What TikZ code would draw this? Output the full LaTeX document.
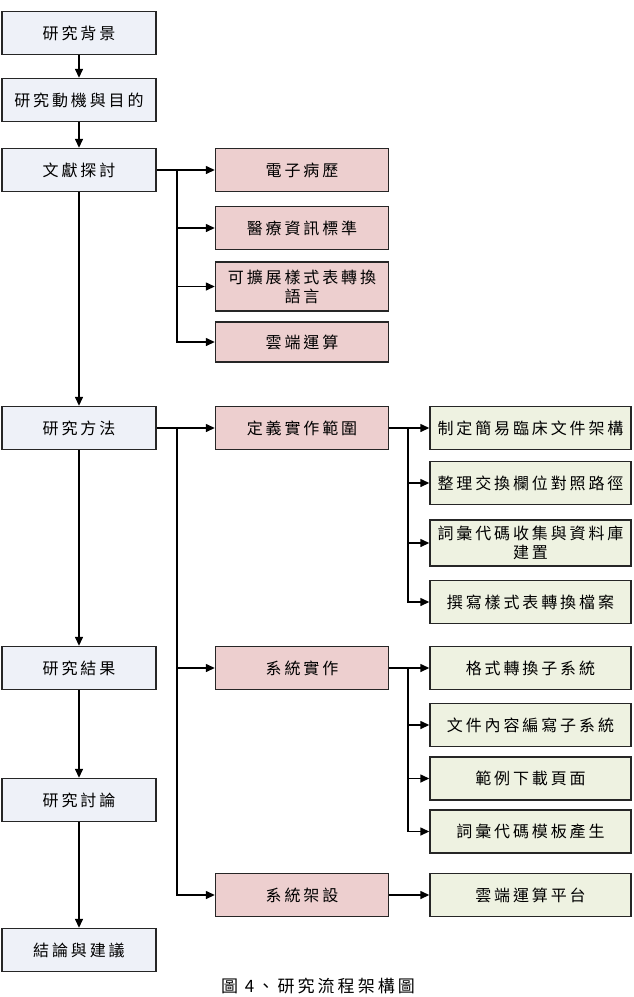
\documentclass[tikz,border=0pt]{standalone}
\usepackage{fontspec}
\setmainfont{Noto Sans CJK TC}
\newfontfamily\boxfont[LetterSpace=18]{Noto Sans CJK TC}
\usetikzlibrary{arrows.meta}
\usepackage{xcolor}

\definecolor{mainfill}{HTML}{EEF1F8}
\definecolor{topicfill}{HTML}{EDCFCF}
\definecolor{taskfill}{HTML}{EEF2E1}

\begin{document}
\begin{tikzpicture}[x=1pt,y=-1pt,
    box/.style={draw=black!85, line width=1.4pt, minimum height=43pt,
      inner sep=2pt, align=center, font=\boxfont\fontsize{16}{19}\selectfont},
    mainbox/.style={box, fill=mainfill, minimum width=154pt},
    topicbox/.style={box, fill=topicfill, minimum width=173pt},
    taskbox/.style={box, fill=taskfill, minimum width=201pt},
    arr/.style={line width=1.4pt, -{Triangle[length=9pt,width=8pt]}}]
  \useasboundingbox (0,0) rectangle (634,997);

  % 主流程
  \node[mainbox] (bg)    at (79,33)  {研究背景};
  \node[mainbox] (mot)   at (79,100) {研究動機與目的};
  \node[mainbox] (lit)   at (79,170) {文獻探討};
  \node[mainbox] (meth)  at (79,428) {研究方法};
  \node[mainbox] (res)   at (79,668) {研究結果};
  \node[mainbox] (disc)  at (79,800) {研究討論};
  \node[mainbox] (concl) at (79,950) {結論與建議};

  % 文獻探討的項目
  \node[topicbox] (emr)   at (302,170) {電子病歷};
  \node[topicbox] (std)   at (302,228) {醫療資訊標準};
  \node[topicbox, minimum height=49pt] (xslt) at (302,286.5) {可擴展樣式表轉換\\語言};
  \node[topicbox, minimum height=40pt] (cloud) at (302,342) {雲端運算};

  % 研究方法的項目
  \node[topicbox] (scope)  at (302,428) {定義實作範圍};
  \node[topicbox] (impl)   at (302,668) {系統實作};
  \node[topicbox] (deploy) at (302,895) {系統架設};

  % 實作細項
  \node[taskbox] (cda)  at (530.5,428) {制定簡易臨床文件架構};
  \node[taskbox] (path) at (530.5,483) {整理交換欄位對照路徑};
  \node[taskbox, minimum height=46pt] (vocab) at (530.5,543) {詞彙代碼收集與資料庫\\建置};
  \node[taskbox] (xsl)  at (530.5,602) {撰寫樣式表轉換檔案};
  \node[taskbox] (conv) at (530.5,668) {格式轉換子系統};
  \node[taskbox] (edit) at (530.5,725) {文件內容編寫子系統};
  \node[taskbox] (dl)   at (530.5,778.5) {範例下載頁面};
  \node[taskbox] (tmpl) at (530.5,831.5) {詞彙代碼模板產生};
  \node[taskbox] (plat) at (530.5,895) {雲端運算平台};

  % 分岐点
  \coordinate (litbr)   at (177,170);
  \coordinate (methbr)  at (177,428);
  \coordinate (scopebr) at (408,428);
  \coordinate (implbr)  at (408,668);

  % 主流程の矢印
  \draw[arr] (bg) -- (mot);
  \draw[arr] (mot) -- (lit);
  \draw[arr] (lit) -- (meth);
  \draw[arr] (meth) -- (res);
  \draw[arr] (res) -- (disc);
  \draw[arr] (disc) -- (concl);

  % 分岐の矢印
  \draw[arr] (lit) -- (emr);
  \foreach \n in {std,xslt,cloud}
    \draw[arr] (litbr) |- (\n);
  \draw[arr] (meth) -- (scope);
  \foreach \n in {impl,deploy}
    \draw[arr] (methbr) |- (\n);
  \draw[arr] (scope) -- (cda);
  \foreach \n in {path,vocab,xsl}
    \draw[arr] (scopebr) |- (\n);
  \draw[arr] (impl) -- (conv);
  \foreach \n in {edit,dl,tmpl}
    \draw[arr] (implbr) |- (\n);
  \draw[arr] (deploy) -- (plat);

  % 図の題
  \node[font=\boxfont\fontsize{17}{20}\selectfont] (cap) at (318,986) {圖 4、研究流程架構圖};
\end{tikzpicture}
\end{document}
